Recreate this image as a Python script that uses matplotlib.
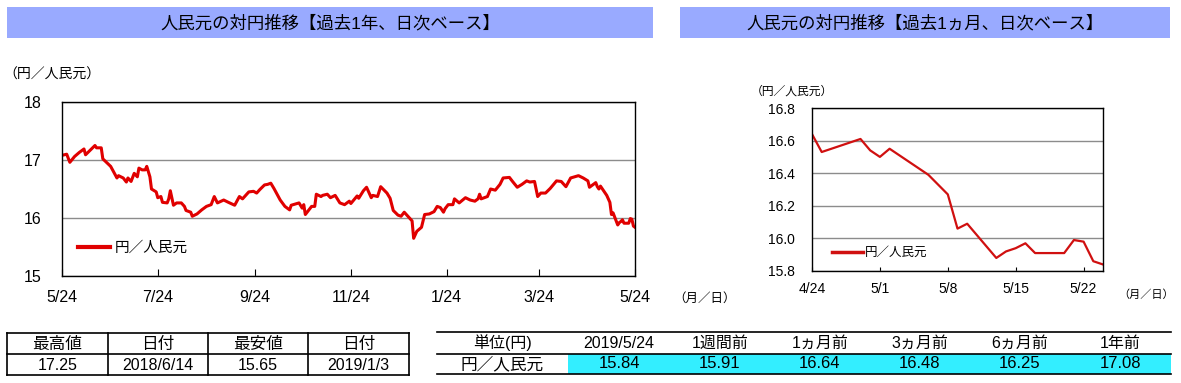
import matplotlib
matplotlib.use('Agg')
import matplotlib.pyplot as plt
from matplotlib.patches import Rectangle
from matplotlib.lines import Line2D
import pandas as pd

plt.rcParams['font.family'] = ['Liberation Sans', 'Noto Sans CJK JP']

# 過去1年 (4/21まで)
year_dates = [
    '2018-05-24', '2018-05-27', '2018-05-29', '2018-06-01', '2018-06-04', '2018-06-07',
    '2018-06-08', '2018-06-11', '2018-06-14', '2018-06-15', '2018-06-18', '2018-06-19',
    '2018-06-24', '2018-06-28', '2018-06-29', '2018-07-02', '2018-07-04', '2018-07-05',
    '2018-07-07', '2018-07-09', '2018-07-11', '2018-07-12', '2018-07-14', '2018-07-16',
    '2018-07-17', '2018-07-19', '2018-07-20', '2018-07-23', '2018-07-24', '2018-07-26',
    '2018-07-27', '2018-07-30', '2018-07-31', '2018-08-01', '2018-08-03', '2018-08-05',
    '2018-08-08', '2018-08-10', '2018-08-11', '2018-08-14', '2018-08-15', '2018-08-18',
    '2018-08-21', '2018-08-24', '2018-08-27', '2018-08-29', '2018-08-31', '2018-09-04',
    '2018-09-07', '2018-09-11', '2018-09-14', '2018-09-16', '2018-09-20', '2018-09-23',
    '2018-09-25', '2018-09-27', '2018-09-30', '2018-10-02', '2018-10-04', '2018-10-06',
    '2018-10-10', '2018-10-13', '2018-10-16', '2018-10-17', '2018-10-22', '2018-10-24',
    '2018-10-25', '2018-10-26', '2018-10-30', '2018-11-01', '2018-11-02', '2018-11-05',
    '2018-11-06', '2018-11-09', '2018-11-11', '2018-11-14', '2018-11-17', '2018-11-20',
    '2018-11-23', '2018-11-24', '2018-11-28', '2018-11-29', '2018-12-02', '2018-12-04',
    '2018-12-07', '2018-12-08', '2018-12-11', '2018-12-13', '2018-12-17', '2018-12-19',
    '2018-12-21', '2018-12-24', '2018-12-26', '2018-12-28', '2018-12-31', '2019-01-02',
    '2019-01-03', '2019-01-05', '2019-01-08', '2019-01-10', '2019-01-13', '2019-01-16',
    '2019-01-18', '2019-01-20', '2019-01-22', '2019-01-23', '2019-01-25', '2019-01-28',
    '2019-01-29', '2019-02-01', '2019-02-05', '2019-02-08', '2019-02-11', '2019-02-13',
    '2019-02-14', '2019-02-15', '2019-02-19', '2019-02-21', '2019-02-24', '2019-02-27',
    '2019-03-01', '2019-03-05', '2019-03-07', '2019-03-10', '2019-03-13', '2019-03-16',
    '2019-03-18', '2019-03-21', '2019-03-23', '2019-03-25', '2019-03-28', '2019-03-31',
    '2019-04-04', '2019-04-07', '2019-04-10', '2019-04-13', '2019-04-18', '2019-04-21',
]
year_vals = [
    17.08, 17.10, 16.96, 17.06, 17.13, 17.19,
    17.09, 17.17, 17.25, 17.21, 17.21, 17.02,
    16.89, 16.69, 16.73, 16.69, 16.62, 16.69,
    16.63, 16.77, 16.71, 16.86, 16.83, 16.83,
    16.89, 16.71, 16.50, 16.45, 16.35, 16.37,
    16.27, 16.26, 16.33, 16.47, 16.22, 16.26,
    16.26, 16.20, 16.13, 16.10, 16.03, 16.07,
    16.14, 16.20, 16.23, 16.37, 16.26, 16.31,
    16.27, 16.22, 16.37, 16.33, 16.45, 16.46,
    16.43, 16.49, 16.57, 16.58, 16.60, 16.51,
    16.31, 16.20, 16.14, 16.22, 16.26, 16.17,
    16.23, 16.06, 16.20, 16.20, 16.41, 16.37,
    16.39, 16.41, 16.35, 16.39, 16.26, 16.23,
    16.29, 16.25, 16.38, 16.34, 16.47, 16.53,
    16.35, 16.39, 16.37, 16.54, 16.43, 16.34,
    16.13, 16.05, 16.03, 16.10, 16.01, 15.95,
    15.65, 15.77, 15.84, 16.06, 16.07, 16.11,
    16.20, 16.18, 16.10, 16.16, 16.23, 16.23,
    16.33, 16.26, 16.35, 16.31, 16.29, 16.33,
    16.41, 16.33, 16.37, 16.50, 16.48, 16.58,
    16.69, 16.70, 16.63, 16.53, 16.58, 16.64,
    16.62, 16.63, 16.37, 16.43, 16.43, 16.51,
    16.64, 16.63, 16.54, 16.69, 16.73, 16.69,
]

# 過去1ヵ月
month_dates = [
    '2019-04-24', '2019-04-25', '2019-04-26', '2019-04-29', '2019-04-30', '2019-05-01',
    '2019-05-02', '2019-05-06', '2019-05-08', '2019-05-09', '2019-05-10', '2019-05-13',
    '2019-05-14', '2019-05-15', '2019-05-16', '2019-05-17', '2019-05-20', '2019-05-21',
    '2019-05-22', '2019-05-23', '2019-05-24',
]
month_vals = [
    16.64, 16.53, 16.55, 16.61, 16.54, 16.50,
    16.55, 16.39, 16.27, 16.06, 16.09, 15.88,
    15.92, 15.94, 15.97, 15.91, 15.91, 15.99,
    15.98, 15.86, 15.84,
]

year_ticks = ['2018-05-24', '2018-07-24', '2018-09-24', '2018-11-24',
              '2019-01-24', '2019-03-24', '2019-05-24']
month_ticks = ['2019-04-24', '2019-05-01', '2019-05-08', '2019-05-15', '2019-05-22']
year_yticks = [15, 16, 17, 18]
month_yticks = [15.8, 16.0, 16.2, 16.4, 16.6, 16.8]

title_year = '人民元の対円推移【過去1年、日次ベース】'
title_month = '人民元の対円推移【過去1ヵ月、日次ベース】'
series_name = '円／人民元'
y_unit = '（円／人民元）'
x_unit = '（月／日）'

range_head = ['最高値', '日付', '最安値', '日付']
range_vals = ['17.25', '2018/6/14', '15.65', '2019/1/3']
chg_head = ['単位(円)', '2019/5/24', '1週間前', '1ヵ月前', '3ヵ月前', '6ヵ月前', '1年前']
chg_row = '円／人民元'
chg_vals = [15.84, 15.91, 16.64, 16.48, 16.25, 17.08]

W, H = 1181, 383
fig = plt.figure(figsize=(W / 100, H / 100), dpi=100)


def box(x0, y0, x1, y1):
    return [x0 / W, 1 - y1 / H, (x1 - x0) / W, (y1 - y0) / H]


def fx(x):
    return x / W


def fy(y):
    return 1 - y / H


def hline(x0, x1, y, lw=1.2):
    fig.add_artist(Line2D([fx(x0), fx(x1)], [fy(y), fy(y)], color='black', lw=lw))


def vline(x, y0, y1, lw=1.2):
    fig.add_artist(Line2D([fx(x), fx(x)], [fy(y0), fy(y1)], color='black', lw=lw))


def md(d):
    return f'{d.month}/{d.day}'


# タイトル帯
bar_col = '#99aaff'
fig.add_artist(Rectangle((fx(7), fy(38)), fx(646), 31 / H, transform=fig.transFigure,
                         color=bar_col, lw=0))
fig.text(fx(330), fy(23), title_year, ha='center', va='center', fontsize=12.5)
fig.add_artist(Rectangle((fx(680), fy(38)), fx(490), 31 / H, transform=fig.transFigure,
                         color=bar_col, lw=0))
fig.text(fx(925), fy(23), title_month, ha='center', va='center', fontsize=12.5)

# 過去1年
ax1 = fig.add_axes(box(62, 102, 635, 276))
d1 = pd.to_datetime(year_dates + month_dates)
ax1.plot(d1, year_vals + month_vals, color='#e00000', lw=2.2, label=series_name)
ax1.set_xlim(pd.Timestamp(year_ticks[0]), pd.Timestamp(year_ticks[-1]))
ax1.set_ylim(15, 18)
ax1.set_yticks(year_yticks)
ax1.yaxis.grid(True, color='#8c8c8c', lw=1)
ax1.set_axisbelow(True)
t1 = pd.to_datetime(year_ticks)
ax1.set_xticks(t1)
ax1.set_xticklabels([md(d) for d in t1])
ax1.tick_params(axis='x', direction='in', length=5, pad=10, labelsize=11.5)
ax1.tick_params(axis='y', length=0, pad=15, labelsize=11.5)
for s in ax1.spines.values():
    s.set_linewidth(1)
leg1 = ax1.legend(loc='center left', bbox_to_anchor=(0.028, 0.161), frameon=False,
                  fontsize=10.5, handlelength=2.2, handletextpad=0.3,
                  borderpad=0, borderaxespad=0)
leg1.get_lines()[0].set_linewidth(3)
fig.text(fx(3), fy(75), y_unit, ha='left', va='center', fontsize=10)
fig.text(fx(673), fy(299), x_unit, ha='left', va='center', fontsize=9)

# 過去1ヵ月
ax2 = fig.add_axes(box(812, 108, 1103, 271))
d2 = pd.to_datetime(month_dates)
ax2.plot(d2, month_vals, color='#d01010', lw=1.6, label=series_name)
ax2.set_xlim(pd.Timestamp('2019-04-24'), pd.Timestamp('2019-05-24'))
ax2.set_ylim(15.8, 16.8)
ax2.set_yticks(month_yticks)
ax2.set_yticklabels([f'{v:.1f}' for v in month_yticks])
ax2.yaxis.grid(True, color='#8c8c8c', lw=1)
ax2.set_axisbelow(True)
t2 = pd.to_datetime(month_ticks)
ax2.set_xticks(t2)
ax2.set_xticklabels([md(d) for d in t2])
ax2.tick_params(axis='x', direction='in', length=3, pad=8, labelsize=10)
ax2.tick_params(axis='y', length=0, pad=12, labelsize=10)
for s in ax2.spines.values():
    s.set_linewidth(1)
leg2 = ax2.legend(loc='center left', bbox_to_anchor=(0.069, 0.11), frameon=False,
                  fontsize=9, handlelength=2.5, handletextpad=0.15,
                  borderpad=0, borderaxespad=0)
leg2.get_lines()[0].set_linewidth(2.5)
fig.text(fx(751), fy(92), y_unit, ha='left', va='center', fontsize=8.5)
fig.text(fx(1174), fy(295), x_unit, ha='right', va='center', fontsize=8)

# 最高値・最安値の表
cols_l = [7, 108, 208, 308, 409]
for y in [333, 354, 375]:
    hline(cols_l[0], cols_l[-1], y)
for x in cols_l:
    vline(x, 333, 375)
for i in range(4):
    cx = (cols_l[i] + cols_l[i + 1]) / 2
    fig.text(fx(cx), fy(344), range_head[i], ha='center', va='center', fontsize=12)
    fig.text(fx(cx), fy(365), range_vals[i], ha='center', va='center', fontsize=11.5)

# 騰落の表
cols_r = [437, 568, 670, 770, 870, 970, 1070, 1171]
fig.add_artist(Rectangle((fx(568), fy(374)), fx(1171 - 568), 20 / H,
                         transform=fig.transFigure, color='#33eeff', lw=0))
for y in [332, 354, 374]:
    hline(cols_r[0], cols_r[-1], y)
for i in range(7):
    cx = (cols_r[i] + cols_r[i + 1]) / 2
    fig.text(fx(cx), fy(343), chg_head[i], ha='center', va='center', fontsize=11.5)
fig.text(fx((cols_r[0] + cols_r[1]) / 2), fy(364), chg_row, ha='center', va='center',
         fontsize=12)
for i, v in enumerate(chg_vals):
    cx = (cols_r[i + 1] + cols_r[i + 2]) / 2
    fig.text(fx(cx), fy(364), f'{v:.2f}', ha='center', va='center', fontsize=12)

fig.savefig('out.png', dpi=100)
